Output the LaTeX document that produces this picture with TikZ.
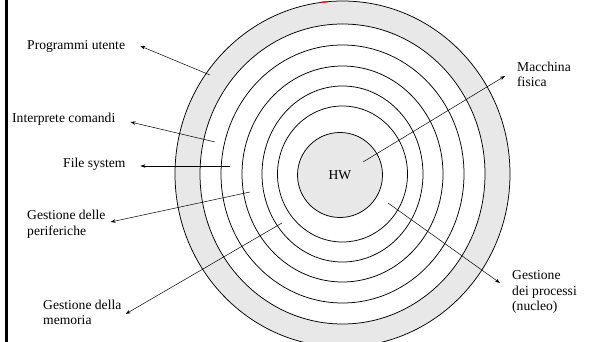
\documentclass[tikz,border=0pt]{standalone}
\usepackage{fontspec}
\setmainfont{Liberation Serif}
\usetikzlibrary{arrows.meta, positioning}
\definecolor{ringgray}{RGB}{232,232,232}

\begin{document}
\begin{tikzpicture}[
  x=1pt, y=-1pt,
  every node/.style={font=\fontsize{13.6}{15.5}\selectfont, inner sep=2pt},
  txt/.style={align=left, anchor=west},
  ring/.style={draw=black, line width=0.75pt, fill=white},
  arrow/.style={-{Stealth[length=5pt, width=3.5pt]}, line width=0.5pt},
]
  \useasboundingbox (0,0) rectangle (589,342);
  \draw[line width=2.4pt] (6.5,0) -- (6.5,342);

  % layers, outside in
  \draw[ring, fill=ringgray] (342.5,174) ellipse [x radius=167.5, y radius=173];
  \foreach \rx/\ry in {142.5/150, 121.5/129, 100.5/108, 80.5/88, 65/68}
    \draw[ring] (342.5,174) ellipse [x radius=\rx, y radius=\ry];
  \draw[red, line width=1.2pt] ([shift={(-97.5:167.5 and 173)}]342.5,174)
    arc [start angle=-97.5, end angle=-94.8, x radius=167.5, y radius=173];
  \node[circle, draw, line width=0.75pt, fill=ringgray, minimum size=85pt, inner sep=0pt] (hw) at (340,175) {HW};

  % labels
  \node[txt] (prog) at (25,46) {Programmi utente};
  \node[txt] (interp) at (10,119) {Interprete comandi};
  \node[txt] (fs) at (61,164) {File system};
  \node[txt] (perif) at (25,224) {Gestione delle\\periferiche};
  \node[txt] (mem) at (41,312.5) {Gestione della\\memoria};
  \node[txt] (mac) at (515,74.5) {Macchina\\fisica};
  \node[txt] (proc) at (510,292) {Gestione\\dei processi\\(nucleo)};

  % pointers
  \coordinate (s-prog) at (210,75);
  \coordinate (s-interp) at (215,142);
  \coordinate (s-fs) at (230,166);
  \coordinate (s-perif) at (250,192);
  \coordinate (s-mem) at (282,223);
  \coordinate (s-mac) at (363,162);
  \coordinate (s-proc) at (388,203);

  \draw[arrow] (s-prog) -- ([xshift=13pt]prog.east);
  \draw[arrow] (s-interp) -- ([xshift=13pt, yshift=-3pt]interp.east);
  \draw[arrow] (s-fs) -- ([xshift=12.7pt, yshift=-2pt]fs.east);
  \draw[arrow] (s-perif) -- ([xshift=3pt, yshift=2pt]perif.east);
  \draw[arrow] (s-mem) -- ([xshift=2pt, yshift=-1.5pt]mem.east);
  \draw[arrow] (s-mac) -- ([xshift=-10pt, yshift=-1.5pt]mac.west);
  \draw[arrow] (s-proc) -- ([xshift=-10pt, yshift=9pt]proc.west);
\end{tikzpicture}
\end{document}
